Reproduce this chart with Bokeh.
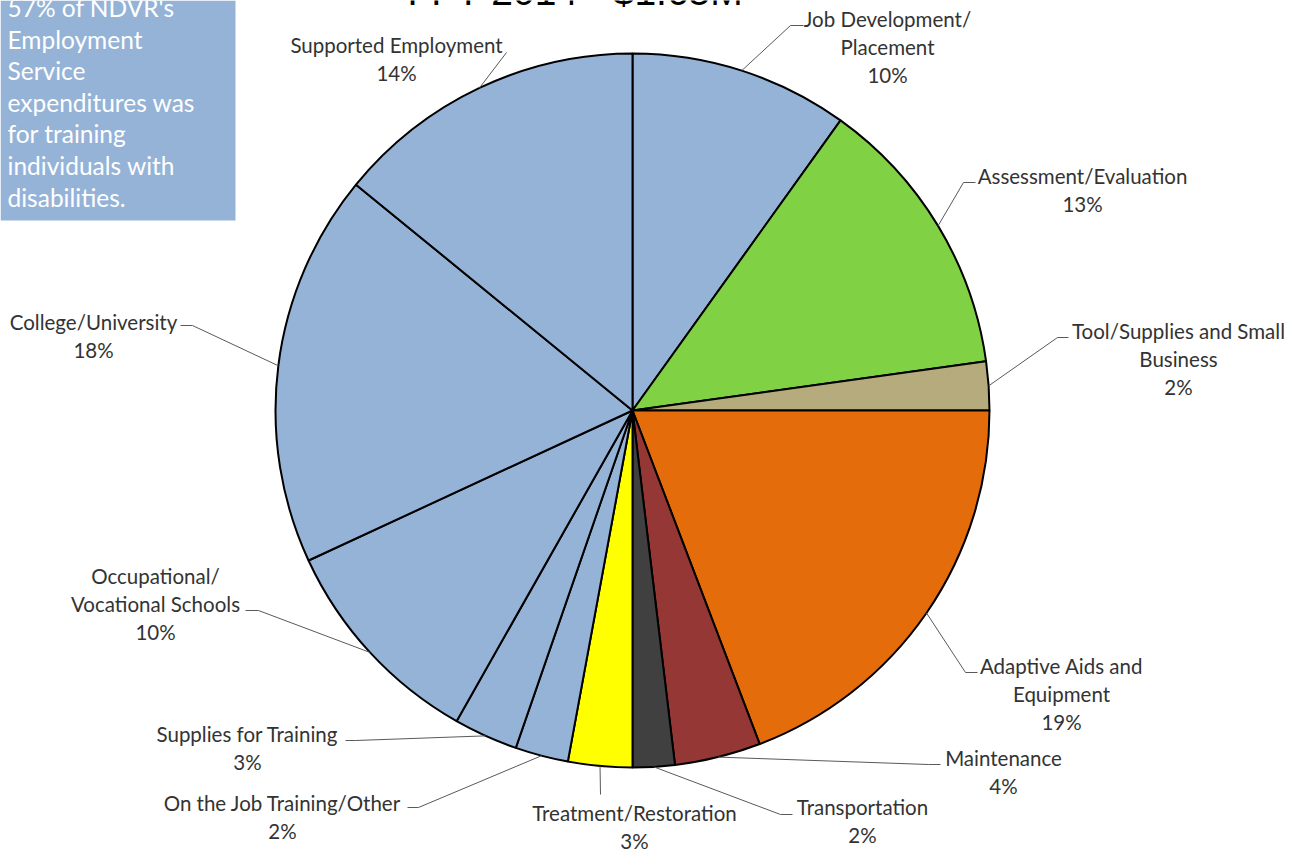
import math
from bokeh.plotting import figure
from bokeh.models import Range1d
from bokeh.embed import file_html
from bokeh.resources import INLINE
from bokeh.core.properties import value

# ---------------- data ----------------
title = "FFY 2014 - $1.65M"
categories = [
    "Job Development/\nPlacement",
    "Assessment/Evaluation",
    "Tool/Supplies and Small\nBusiness",
    "Adaptive Aids and\nEquipment",
    "Maintenance",
    "Transportation",
    "Treatment/Restoration",
    "On the Job Training/Other",
    "Supplies for Training",
    "Occupational/\nVocational Schools",
    "College/University",
    "Supported Employment",
]
shares = [9.9, 12.9, 2.2, 19.2, 3.9, 1.9, 2.9, 2.4, 2.9, 9.9, 17.8, 14.1]
colors = ["#95B3D7", "#80D143", "#B6AB7C", "#E46C0A", "#953735", "#404040",
          "#FFFF00", "#95B3D7", "#95B3D7", "#95B3D7", "#95B3D7", "#95B3D7"]
note_lines = ["57% of NDVR's", "Employment", "Service", "expenditures was",
              "for training", "individuals with", "disabilities."]

# ---------------- layout (screen px, y downward) ----------------
W, H = 1303, 852
CX, CY, R = 632, 410, 357
# label centre x, centre y of first line
label_pos = [(887, 18), (1082, 175), (1178, 330), (1061, 665), (1003, 757),
             (862, 806), (634, 812), (282, 802), (247, 733), (155, 575),
             (93, 321), (396, 44)]
leader_elbow = [(790, 25), (963, 182), (1057, 337), (965, 672), (928, 764),
                (780, 814), (600, 794), (418, 807), (355, 740), (258, 610),
                (192, 325), (506, 52)]
leader_end = [(803, 25), (975, 182), (1068, 337), (977, 672), (940, 764),
              (792, 814), (600, 794), (407, 807), (345, 740), (245, 610),
              (180, 325), (506, 52)]
LINE_H = 28


def fy(ys):
    return H - ys


p = figure(width=W, height=H, x_range=Range1d(0, W), y_range=Range1d(0, H),
           output_backend="svg", toolbar_location=None, min_border=0,
           x_axis_location=None, y_axis_location=None)
p.grid.visible = False
p.outline_line_color = None
p.background_fill_color = "white"
p.border_fill_color = "white"

total = sum(shares)
starts, ends, mids = [], [], []
c = 0.0
for s in shares:
    a0 = math.pi / 2 - 2 * math.pi * c / total
    c += s
    a1 = math.pi / 2 - 2 * math.pi * c / total
    starts.append(a0)
    ends.append(a1)
    mids.append((a0 + a1) / 2)

p.wedge(x=[CX] * len(shares), y=[fy(CY)] * len(shares), radius=R,
        start_angle=starts, end_angle=ends, direction="clock",
        fill_color=colors, line_color="black", line_width=2)

# leader lines
xs, ys = [], []
for m, el, en in zip(mids, leader_elbow, leader_end):
    ex = CX + R * math.cos(m)
    ey = fy(CY) + R * math.sin(m)
    xs.append([ex, el[0], en[0]])
    ys.append([ey, fy(el[1]), fy(en[1])])
p.multi_line(xs=xs, ys=ys, line_color="#595959", line_width=1)

# labels
tx, ty, tt = [], [], []
for cat, s, (lx, ly) in zip(categories, shares, label_pos):
    lines = cat.split("\n") + [f"{round(s)}%"]
    for i, ln in enumerate(lines):
        tx.append(lx)
        ty.append(fy(ly + i * LINE_H))
        tt.append(ln)
p.text(x=tx, y=ty, text=tt, text_align="center", text_baseline="middle",
       text_font=value("Lato"), text_font_size="20.5px", text_color="#333333")

# note box
p.quad(left=[0], right=[235], top=[fy(0)], bottom=[fy(220)],
       fill_color="#95B3D7", line_color=None)
p.text(x=[7] * len(note_lines),
       y=[fy(7 + 31.6 * i) for i in range(len(note_lines))],
       text=note_lines, text_align="left", text_baseline="middle",
       text_font=value("Lato"), text_font_size="24.5px", text_color="white")

# title (cut at top as in reference)
p.text(x=[575], y=[fy(-9)], text=[title], text_align="center",
       text_baseline="alphabetic", text_font=value("Liberation Sans"),
       text_font_size="39px", text_color="black")

open("out.html", "w").write(file_html(p, INLINE))
